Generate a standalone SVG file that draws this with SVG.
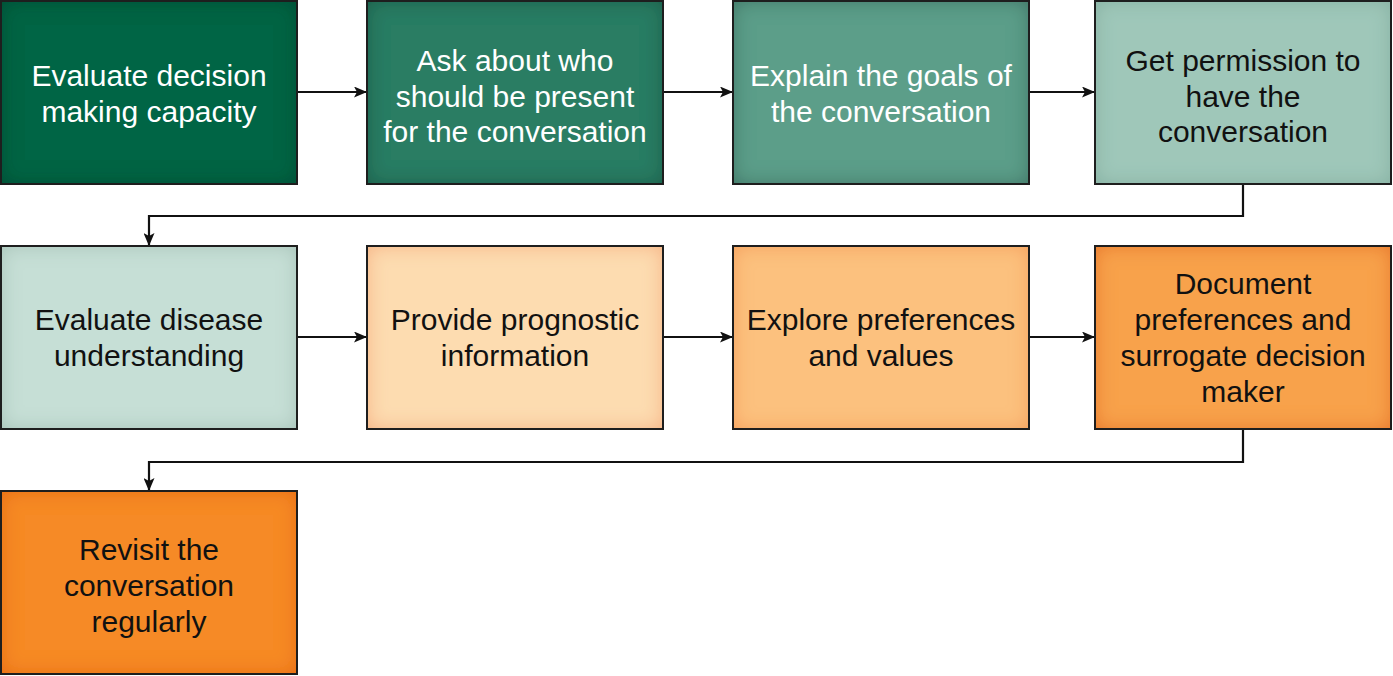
<svg xmlns="http://www.w3.org/2000/svg" width="1393" height="676" viewBox="0 0 1393 676">
<style>
.f{stroke:none}
.o{fill:none;stroke:#1e1e1e;stroke-width:2}
.t{font-family:"Liberation Sans",Arial,sans-serif;font-size:30px;text-anchor:middle}
.w{fill:#ffffff}
.k{fill:#111111}
.c{fill:none;stroke:#111;stroke-width:2.2}
</style>
<defs>
<marker id="ah" markerWidth="13" markerHeight="11" refX="12" refY="5.5" orient="auto" markerUnits="userSpaceOnUse">
<path d="M0,0 L13,5.5 L0,11 L3,5.5 Z" fill="#111"/>
</marker>
<filter id="ig" x="0" y="0" width="1" height="1">
<feGaussianBlur in="SourceAlpha" stdDeviation="10" result="b"/>
<feComposite in="SourceAlpha" in2="b" operator="arithmetic" k2="1" k3="-1" result="e"/>
<feFlood flood-color="#002a1a" flood-opacity="0.55"/>
<feComposite in2="e" operator="in" result="s"/>
<feMerge><feMergeNode in="SourceGraphic"/><feMergeNode in="s"/></feMerge>
</filter>
<filter id="il" x="0" y="0" width="1" height="1">
<feGaussianBlur in="SourceAlpha" stdDeviation="10" result="b"/>
<feComposite in="SourceAlpha" in2="b" operator="arithmetic" k2="1" k3="-1" result="e"/>
<feFlood flood-color="#2f6f5c" flood-opacity="0.35"/>
<feComposite in2="e" operator="in" result="s"/>
<feMerge><feMergeNode in="SourceGraphic"/><feMergeNode in="s"/></feMerge>
</filter>
<filter id="io" x="0" y="0" width="1" height="1">
<feGaussianBlur in="SourceAlpha" stdDeviation="10" result="b"/>
<feComposite in="SourceAlpha" in2="b" operator="arithmetic" k2="1" k3="-1" result="e"/>
<feFlood flood-color="#ee6a10" flood-opacity="0.5"/>
<feComposite in2="e" operator="in" result="s"/>
<feMerge><feMergeNode in="SourceGraphic"/><feMergeNode in="s"/></feMerge>
</filter>
<filter id="ir" x="0" y="0" width="1" height="1">
<feGaussianBlur in="SourceAlpha" stdDeviation="10" result="b"/>
<feComposite in="SourceAlpha" in2="b" operator="arithmetic" k2="1" k3="-1" result="e"/>
<feFlood flood-color="#e0560a" flood-opacity="0.7"/>
<feComposite in2="e" operator="in" result="s"/>
<feMerge><feMergeNode in="SourceGraphic"/><feMergeNode in="s"/></feMerge>
</filter>
</defs>

<g id="connectors">
<line class="c" x1="298" y1="92" x2="366" y2="92" marker-end="url(#ah)"/>
<line class="c" x1="664" y1="92" x2="732" y2="92" marker-end="url(#ah)"/>
<line class="c" x1="1030" y1="92" x2="1094" y2="92" marker-end="url(#ah)"/>
<polyline class="c" points="1243,185 1243,216 149,216 149,245" marker-end="url(#ah)"/>
<line class="c" x1="298" y1="337" x2="366" y2="337" marker-end="url(#ah)"/>
<line class="c" x1="664" y1="337" x2="732" y2="337" marker-end="url(#ah)"/>
<line class="c" x1="1030" y1="337" x2="1094" y2="337" marker-end="url(#ah)"/>
<polyline class="c" points="1243,430 1243,462 149,462 149,490" marker-end="url(#ah)"/>
</g>

<g id="n1">
<rect class="f" x="1" y="1" width="296" height="183" fill="#036545" filter="url(#ig)"/>
<rect class="o" x="1" y="1" width="296" height="183"/>
<text class="t w" x="149" y="86">Evaluate decision</text>
<text class="t w" x="149" y="122">making capacity</text>
</g>
<g id="n2">
<rect class="f" x="367" y="1" width="296" height="183" fill="#2b7d63" filter="url(#ig)"/>
<rect class="o" x="367" y="1" width="296" height="183"/>
<text class="t w" x="515" y="71">Ask about who</text>
<text class="t w" x="515" y="107">should be present</text>
<text class="t w" x="515" y="142">for the conversation</text>
</g>
<g id="n3">
<rect class="f" x="733" y="1" width="296" height="183" fill="#5c9e89" filter="url(#ig)"/>
<rect class="o" x="733" y="1" width="296" height="183"/>
<text class="t w" x="881" y="86">Explain the goals of</text>
<text class="t w" x="881" y="122">the conversation</text>
</g>
<g id="n4">
<rect class="f" x="1095" y="1" width="296" height="183" fill="#9fc7b9" filter="url(#il)"/>
<rect class="o" x="1095" y="1" width="296" height="183"/>
<text class="t k" x="1243" y="71">Get permission to</text>
<text class="t k" x="1243" y="107">have the</text>
<text class="t k" x="1243" y="142">conversation</text>
</g>
<g id="n5">
<rect class="f" x="1" y="246" width="296" height="183" fill="#c6dfd6" filter="url(#il)"/>
<rect class="o" x="1" y="246" width="296" height="183"/>
<text class="t k" x="149" y="330">Evaluate disease</text>
<text class="t k" x="149" y="366">understanding</text>
</g>
<g id="n6">
<rect class="f" x="367" y="246" width="296" height="183" fill="#fddcb0" filter="url(#io)"/>
<rect class="o" x="367" y="246" width="296" height="183"/>
<text class="t k" x="515" y="330">Provide prognostic</text>
<text class="t k" x="515" y="366">information</text>
</g>
<g id="n7">
<rect class="f" x="733" y="246" width="296" height="183" fill="#fcc17e" filter="url(#io)"/>
<rect class="o" x="733" y="246" width="296" height="183"/>
<text class="t k" x="881" y="330">Explore preferences</text>
<text class="t k" x="881" y="366">and values</text>
</g>
<g id="n8">
<rect class="f" x="1095" y="246" width="296" height="183" fill="#f8a24c" filter="url(#ir)"/>
<rect class="o" x="1095" y="246" width="296" height="183"/>
<text class="t k" x="1243" y="294">Document</text>
<text class="t k" x="1243" y="330">preferences and</text>
<text class="t k" x="1243" y="366">surrogate decision</text>
<text class="t k" x="1243" y="402">maker</text>
</g>
<g id="n9">
<rect class="f" x="1" y="491" width="296" height="183" fill="#f68a26" filter="url(#ir)"/>
<rect class="o" x="1" y="491" width="296" height="183"/>
<text class="t k" x="149" y="560">Revisit the</text>
<text class="t k" x="149" y="596">conversation</text>
<text class="t k" x="149" y="632">regularly</text>
</g>
</svg>
